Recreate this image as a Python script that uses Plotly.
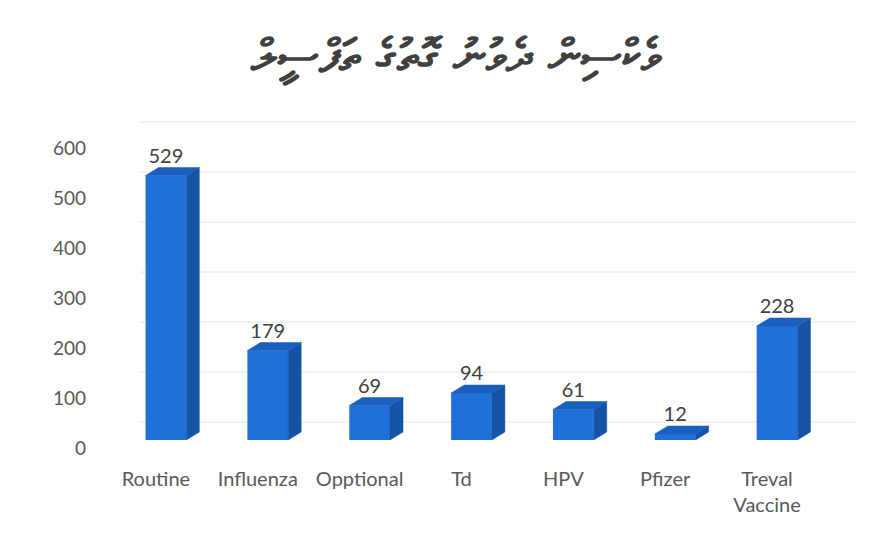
import plotly.graph_objects as go

categories = ["Routine", "Influenza", "Opptional", "Td", "HPV", "Pfizer", "Treval<br>Vaccine"]
values = [529, 179, 69, 94, 61, 12, 228]
y_ticks = [0, 100, 200, 300, 400, 500, 600]
title_text = "ވެކްސިން ދެވުނު ގޮތުގެ ތަފްސީލް"

FRONT = "#1f70d9"
SIDE = "#1553a6"
TOP = "#1a5fbd"
TXT = "#404040"
AX = "#595959"
FONT = "Lato"

half_w = 0.2      # half bar width in category units
dx = 0.128        # depth offset (x, category units)
dy = 16           # depth offset (y, value units)
grid_off = 36     # back wall offset of gridlines (value units)

xs = list(range(len(categories)))

fig = go.Figure()

# front faces
fig.add_trace(go.Bar(x=xs, y=values, width=2 * half_w, marker=dict(color=FRONT, line=dict(width=0)),
                     hoverinfo="skip", yaxis="y"))

# side faces
sx, sy = [], []
for i, v in zip(xs, values):
    sx += [i + half_w, i + half_w + dx, i + half_w + dx, i + half_w, i + half_w, None]
    sy += [0, dy, v + dy, v, 0, None]
fig.add_trace(go.Scatter(x=sx, y=sy, mode="lines", fill="toself", fillcolor=SIDE,
                         line=dict(color=SIDE, width=0.5), hoverinfo="skip", yaxis="y"))

# top faces
tx, ty = [], []
for i, v in zip(xs, values):
    tx += [i - half_w, i - half_w + dx, i + half_w + dx, i + half_w, i - half_w, None]
    ty += [v, v + dy, v + dy, v, v, None]
fig.add_trace(go.Scatter(x=tx, y=ty, mode="lines", fill="toself", fillcolor=TOP,
                         line=dict(color=TOP, width=0.5), hoverinfo="skip", yaxis="y"))

# value labels
fig.add_trace(go.Scatter(x=xs, y=[v + dy for v in values], mode="text",
                         text=[str(v) for v in values], textposition="top center",
                         textfont=dict(family=FONT, size=20, color=TXT), hoverinfo="skip", yaxis="y"))

# dummy trace for label axis
fig.add_trace(go.Scatter(x=[None], y=[None], yaxis="y2", showlegend=False, hoverinfo="skip"))

# back-wall gridlines
shapes = []
for t in y_ticks:
    shapes.append(dict(type="line", xref="x", yref="y", x0=-0.25, x1=len(categories) - 1 + 0.785,
                       y0=t + grid_off, y1=t + grid_off, line=dict(color="#dce8f3", width=1), layer="below"))

fig.update_layout(
    width=895, height=538,
    paper_bgcolor="white", plot_bgcolor="white",
    showlegend=False,
    margin=dict(l=107, r=46, t=102, b=96),
    title=dict(text=title_text, x=0.5, xanchor="center", y=0.912, yanchor="middle",
               font=dict(family="DejaVu Sans", size=46, color=TXT, weight="bold")),
    xaxis=dict(range=[-0.5, len(categories) - 1 + 0.785], tickmode="array", tickvals=xs, ticktext=categories,
               showgrid=False, zeroline=False, showline=False, ticks="",
               tickfont=dict(family=FONT, size=20, color=AX), ticklabelstandoff=15, ticklabelshift=-10),
    yaxis=dict(range=[-20, 660], showgrid=False, zeroline=False, showline=False,
               showticklabels=False, ticks=""),
    yaxis2=dict(range=[-4, 676], overlaying="y", side="left", tickmode="array", tickvals=y_ticks,
                showgrid=False, zeroline=False, showline=False, ticks="",
                tickfont=dict(family=FONT, size=19, color=AX), ticklabelstandoff=28),
    shapes=shapes,
)

fig.write_html("out.html")
